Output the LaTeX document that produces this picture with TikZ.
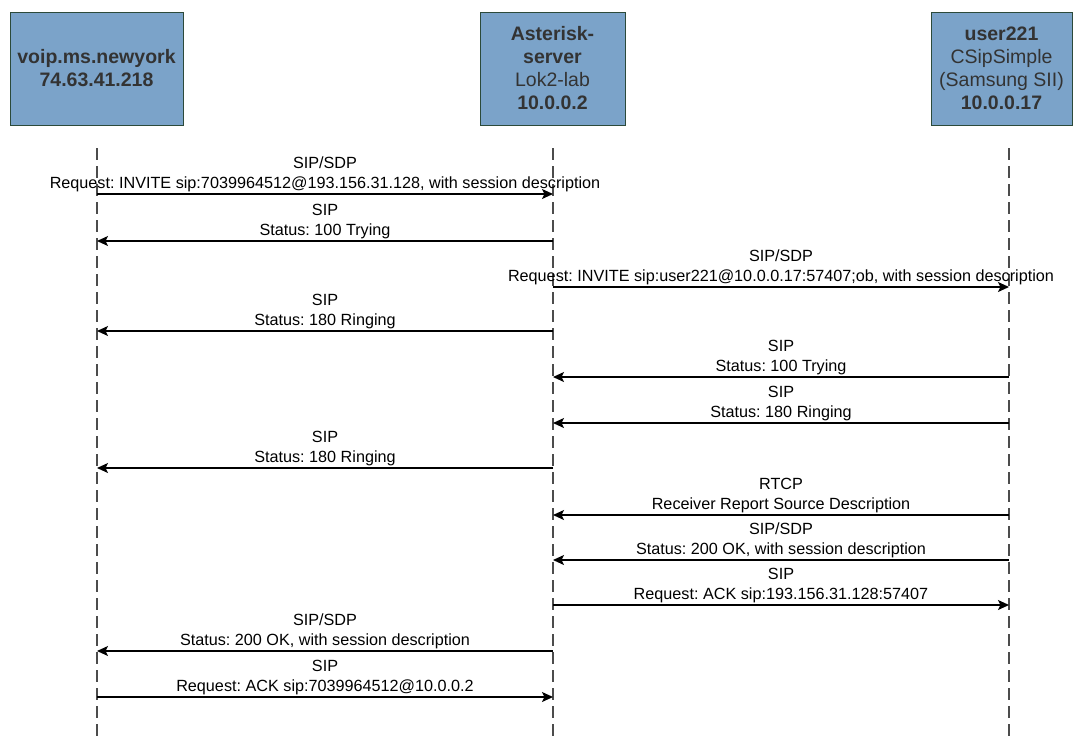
\documentclass[tikz,border=0pt]{standalone}
\usepackage{fontspec}
\setmainfont{Liberation Sans}
\usetikzlibrary{arrows.meta}
\frenchspacing
\definecolor{boxfill}{RGB}{123,163,201}
\definecolor{boxline}{RGB}{44,74,58}
\definecolor{boxtext}{RGB}{51,51,51}
\tikzset{
  actor/.style={draw=boxline, line width=0.9pt, fill=boxfill, minimum height=113pt, text=boxtext, align=center, inner sep=0pt, font=\fontsize{19.5}{23}\selectfont},
  lifeline/.style={draw=black!70, line width=1.3pt, dash pattern=on 12pt off 6pt},
  msg/.style={draw=black, line width=1.5pt, -{Stealth[length=11pt,width=10pt,inset=2.5pt]}},
  lbl/.style={above, align=center, inner sep=0pt, yshift=1pt, font=\fontsize{16.2}{20}\selectfont, text=black}
}
\begin{document}
\begin{tikzpicture}[x=1pt,y=-1pt]
\useasboundingbox (0,0) rectangle (1077,737);
\node[actor, minimum width=173pt] (P1) at (96.5,68.5) {\textbf{voip.ms.newyork}\\\textbf{74.63.41.218}};
\node[actor, minimum width=145pt] (P2) at (552.5,68.5) {\textbf{Asterisk-}\\\textbf{server}\\Lok2-lab\\\textbf{10.0.0.2}};
\node[actor, minimum width=141pt] (P3) at (1001.5,68.5) {\textbf{user221}\\CSipSimple\\(Samsung SII)\\\textbf{10.0.0.17}};
\coordinate (T1) at (97,148); \coordinate (E1) at (97,740);
\coordinate (T2) at (553,148); \coordinate (E2) at (553,740);
\coordinate (T3) at (1009,148); \coordinate (E3) at (1009,740);
\draw[lifeline] (T1) -- (E1);
\draw[lifeline] (T2) -- (E2);
\draw[lifeline] (T3) -- (E3);
\foreach \n/\y in {1/194,2/241,3/287,4/331,5/377,6/423,7/468,8/515,9/560,10/605,11/651,12/697}{
  \coordinate (A\n) at (97,\y);
  \coordinate (B\n) at (553,\y);
  \coordinate (C\n) at (1009,\y);
}
\draw[msg] (A1) -- node[lbl] (m1) {SIP/SDP\\Request: INVITE sip:7039964512@193.156.31.128, with session description} (B1);
\draw[msg] (B2) -- node[lbl] (m2) {SIP\\Status: 100 Trying} (A2);
\draw[msg] (B3) -- node[lbl] (m3) {SIP/SDP\\Request: INVITE sip:user221@10.0.0.17:57407;ob, with session description} (C3);
\draw[msg] (B4) -- node[lbl] (m4) {SIP\\Status: 180 Ringing} (A4);
\draw[msg] (C5) -- node[lbl] (m5) {SIP\\Status: 100 Trying} (B5);
\draw[msg] (C6) -- node[lbl] (m6) {SIP\\Status: 180 Ringing} (B6);
\draw[msg] (B7) -- node[lbl] (m7) {SIP\\Status: 180 Ringing} (A7);
\draw[msg] (C8) -- node[lbl] (m8) {RTCP\\Receiver Report Source Description} (B8);
\draw[msg] (C9) -- node[lbl] (m9) {SIP/SDP\\Status: 200 OK, with session description} (B9);
\draw[msg] (B10) -- node[lbl] (m10) {SIP\\Request: ACK sip:193.156.31.128:57407} (C10);
\draw[msg] (B11) -- node[lbl] (m11) {SIP/SDP\\Status: 200 OK, with session description} (A11);
\draw[msg] (A12) -- node[lbl] (m12) {SIP\\Request: ACK sip:7039964512@10.0.0.2} (B12);
\end{tikzpicture}
\end{document}
